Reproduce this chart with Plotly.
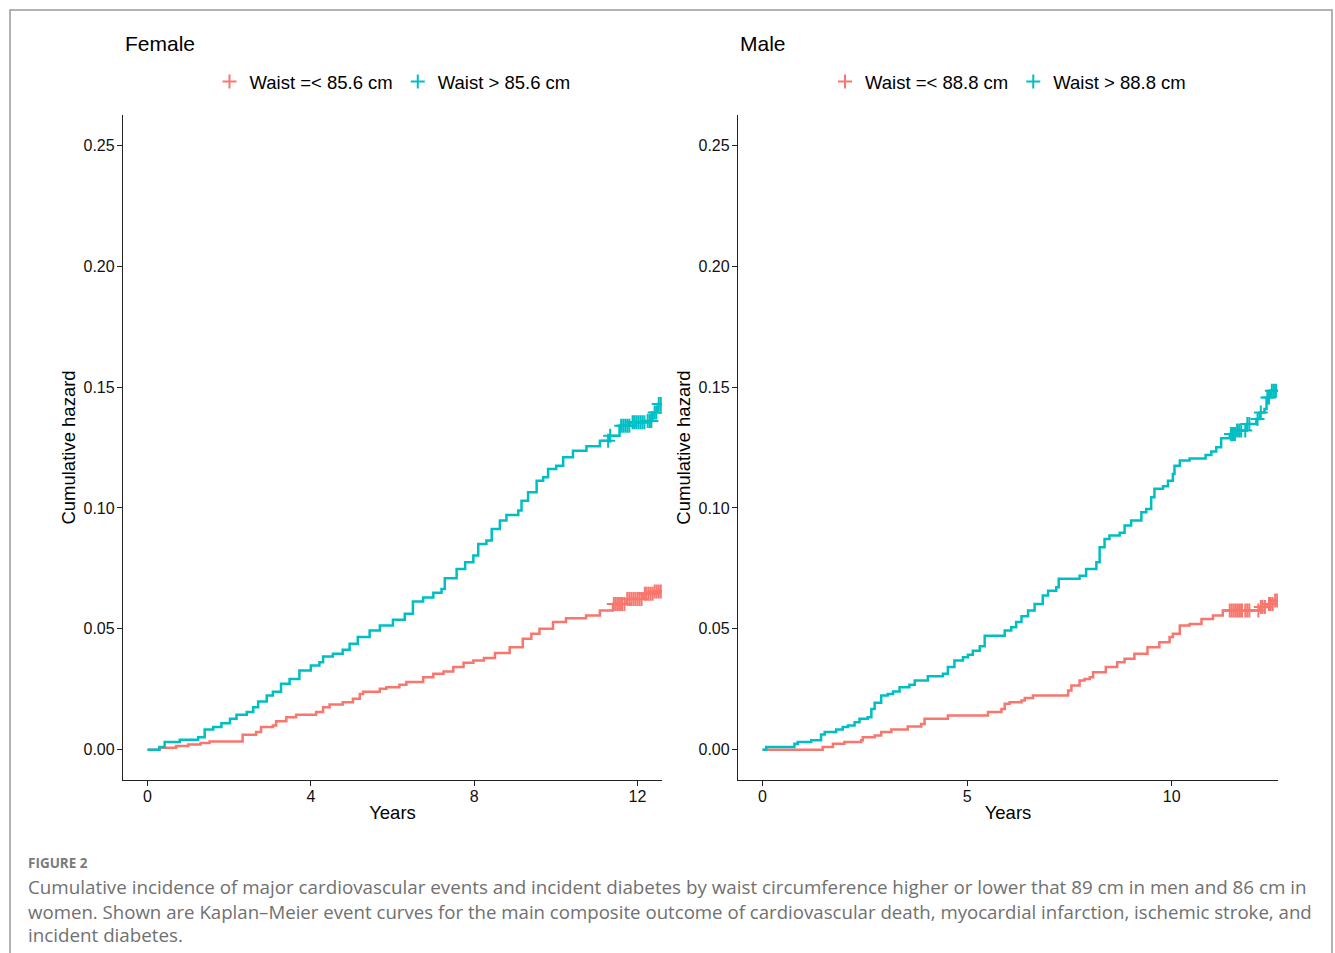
import numpy as np
import plotly.graph_objects as go

# ---------------- data ----------------
# Female, Waist =< 85.6 cm
f_lo_t = [0, 0.3, 0.7, 1.0, 1.3, 1.52, 2.33, 2.66, 2.78, 3.07, 3.15, 3.4, 3.64, 4.13, 4.3, 4.46,
          4.78, 5.03, 5.2, 5.28, 5.69, 5.85, 6.17, 6.34, 6.75, 7.0, 7.25, 7.49, 7.74, 7.98, 8.24,
          8.51, 8.87, 9.19, 9.4, 9.6, 9.93, 10.25, 10.74, 11.08, 11.4, 11.73, 12.14, 12.4, 12.6]
f_lo_v = [0, 0.0008, 0.0016, 0.0022, 0.0028, 0.0034, 0.0062, 0.0073, 0.0094, 0.0100, 0.0118,
          0.0135, 0.0145, 0.0156, 0.0176, 0.0187, 0.0197, 0.0211, 0.0231, 0.0240, 0.0252, 0.0259,
          0.0269, 0.0280, 0.0300, 0.0314, 0.0324, 0.0342, 0.0360, 0.0369, 0.0380, 0.0400, 0.0424,
          0.0459, 0.0480, 0.0500, 0.0528, 0.0544, 0.0555, 0.0576, 0.0603, 0.0624, 0.0645, 0.0655,
          0.0658]
f_lo_cens = [11.42, 11.47, 11.52, 11.57, 11.62, 11.68, 11.75, 11.8, 11.85, 11.9, 11.95, 12.0,
             12.05, 12.1, 12.18, 12.22, 12.27, 12.32, 12.37, 12.42, 12.47, 12.52, 12.57]

# Female, Waist > 85.6 cm
f_hi_t = [0, 0.29, 0.42, 0.79, 1.24, 1.4, 1.61, 1.81, 2.02, 2.18, 2.43, 2.59, 2.71, 2.92, 3.07,
          3.27, 3.48, 3.72, 4.0, 4.21, 4.3, 4.54, 4.78, 4.95, 5.15, 5.44, 5.69, 6.01, 6.3, 6.5,
          6.75, 7.0, 7.2, 7.28, 7.57, 7.78, 7.98, 8.1, 8.3, 8.43, 8.63, 8.79, 9.08, 9.16, 9.32,
          9.53, 9.69, 9.81, 10.01, 10.18, 10.42, 10.75, 11.08, 11.32, 11.56, 11.81, 12.21, 12.37,
          12.5, 12.6]
f_hi_v = [0, 0.0011, 0.0032, 0.0041, 0.0052, 0.0084, 0.0094, 0.0110, 0.0128, 0.0145, 0.0156,
          0.0176, 0.0200, 0.0224, 0.0240, 0.0273, 0.0293, 0.0328, 0.0348, 0.0362, 0.0386, 0.0397,
          0.0414, 0.0438, 0.0466, 0.0493, 0.0514, 0.0538, 0.0562, 0.0613, 0.0630, 0.0649, 0.0665,
          0.0709, 0.0748, 0.0775, 0.0803, 0.0851, 0.0865, 0.0913, 0.0948, 0.0971, 0.0989, 0.1030,
          0.1065, 0.1113, 0.1127, 0.1161, 0.1175, 0.1210, 0.1237, 0.1255, 0.1278, 0.1299, 0.1340,
          0.1354, 0.1360, 0.1395, 0.1430, 0.1430]
f_hi_cens = [11.28, 11.33, 11.6, 11.65, 11.7, 11.75, 11.8, 11.88, 11.92, 11.97, 12.02, 12.07,
             12.12, 12.17, 12.25, 12.3, 12.34, 12.42, 12.46, 12.52, 12.57]

# Male, Waist =< 88.8 cm
m_lo_t = [0, 1.47, 1.72, 2.0, 2.41, 2.45, 2.74, 2.9, 3.15, 3.55, 3.88, 3.96, 4.53, 5.51, 5.84,
          5.92, 6.04, 6.33, 6.41, 6.61, 7.47, 7.55, 7.75, 7.87, 8.0, 8.08, 8.39, 8.67, 8.85, 9.09,
          9.41, 9.7, 9.95, 10.03, 10.2, 10.44, 10.73, 11.01, 11.25, 12.15, 12.35, 12.52, 12.6]
m_lo_v = [0, 0.0011, 0.0025, 0.0032, 0.0039, 0.0052, 0.0059, 0.0073, 0.0084, 0.0096, 0.0107,
          0.0128, 0.0142, 0.0156, 0.0169, 0.0190, 0.0197, 0.0204, 0.0214, 0.0224, 0.0245, 0.0266,
          0.0286, 0.0293, 0.0300, 0.0321, 0.0342, 0.0362, 0.0376, 0.0397, 0.0424, 0.0445, 0.0466,
          0.0480, 0.0514, 0.0520, 0.0541, 0.0555, 0.0576, 0.0590, 0.0603, 0.0617, 0.0617]
m_lo_cens = [11.42, 11.47, 11.52, 11.57, 11.62, 11.67, 11.72, 11.8, 11.85, 11.9, 12.12, 12.18,
             12.22, 12.28, 12.38, 12.42, 12.47, 12.53, 12.58]

# Male, Waist > 88.8 cm
m_hi_t = [0, 0.09, 0.78, 0.86, 1.19, 1.43, 1.52, 1.8, 1.96, 2.09, 2.25, 2.37, 2.57, 2.66, 2.74,
          2.9, 3.06, 3.19, 3.35, 3.59, 3.72, 4.04, 4.41, 4.53, 4.69, 4.9, 5.02, 5.14, 5.31, 5.43,
          5.92, 6.08, 6.2, 6.33, 6.49, 6.65, 6.85, 6.98, 7.18, 7.24, 7.75, 7.91, 8.16, 8.24, 8.36,
          8.48, 8.73, 8.85, 9.01, 9.26, 9.38, 9.5, 9.58, 9.79, 9.91, 10.03, 10.07, 10.2, 10.44,
          10.83, 10.97, 11.09, 11.21, 11.42, 11.58, 11.83, 12.07, 12.15, 12.27, 12.32, 12.4, 12.6]
m_hi_v = [0, 0.0011, 0.0025, 0.0032, 0.0039, 0.0063, 0.0073, 0.0084, 0.0094, 0.0100, 0.0114,
          0.0128, 0.0135, 0.0169, 0.0194, 0.0224, 0.0231, 0.0241, 0.0259, 0.0269, 0.0286, 0.0304,
          0.0314, 0.0342, 0.0369, 0.0383, 0.0393, 0.0410, 0.0428, 0.0472, 0.0493, 0.0507, 0.0528,
          0.0552, 0.0576, 0.0603, 0.0638, 0.0658, 0.0672, 0.0707, 0.0720, 0.0748, 0.0775, 0.0838,
          0.0872, 0.0886, 0.0897, 0.0927, 0.0948, 0.0982, 0.0996, 0.1044, 0.1079, 0.1090, 0.1113,
          0.1140, 0.1175, 0.1196, 0.1205, 0.1219, 0.1233, 0.1251, 0.1288, 0.1306, 0.1320, 0.1347,
          0.1368, 0.1395, 0.1409, 0.1457, 0.1485, 0.1485]
m_hi_cens = [11.45, 11.5, 11.55, 11.6, 11.65, 11.7, 11.8, 11.85, 11.9, 12.1, 12.18, 12.34,
             12.38, 12.45, 12.5, 12.55]

female_labels = ["Waist =< 85.6 cm", "Waist > 85.6 cm"]
male_labels = ["Waist =< 88.8 cm", "Waist > 88.8 cm"]
female_xticks = [0, 4, 8, 12]
male_xticks = [0, 5, 10]
y_ticks = [0.00, 0.05, 0.10, 0.15, 0.20, 0.25]

panel_titles = ["Female", "Male"]
caption_head = "FIGURE 2"
caption_lines = [
    "Cumulative incidence of major cardiovascular events and incident diabetes by waist circumference higher or lower that 89 cm in men and 86 cm in",
    "women. Shown are Kaplan\u2013Meier event curves for the main composite outcome of cardiovascular death, myocardial infarction, ischemic stroke, and",
    "incident diabetes.",
]

RED = "#F8766D"
TEAL = "#00BFC4"

# ---------------- layout helpers (pixel -> paper) ----------------
W, H = 1335, 953
def fx(p):
    return p / W
def fy(p):
    return 1 - p / H

def step_at(ts, vs, c):
    ts = np.asarray(ts); vs = np.asarray(vs)
    idx = np.searchsorted(ts, np.asarray(c), side="right") - 1
    return vs[np.clip(idx, 0, len(vs) - 1)]

fig = go.Figure()

groups = [
    (f_lo_t, f_lo_v, f_lo_cens, female_labels[0], RED, "x", "y", "legend"),
    (f_hi_t, f_hi_v, f_hi_cens, female_labels[1], TEAL, "x", "y", "legend"),
    (m_lo_t, m_lo_v, m_lo_cens, male_labels[0], RED, "x2", "y2", "legend2"),
    (m_hi_t, m_hi_v, m_hi_cens, male_labels[1], TEAL, "x2", "y2", "legend2"),
]
for ts, vs, cens, name, col, xa, ya, lg in groups:
    fig.add_trace(go.Scatter(
        x=ts, y=vs, mode="lines", line=dict(color=col, width=2.5, shape="hv"),
        xaxis=xa, yaxis=ya, showlegend=False, legendgroup=name, hoverinfo="skip"))
    fig.add_trace(go.Scatter(
        x=cens, y=step_at(ts, vs, cens), mode="markers", name=name,
        marker=dict(symbol="cross-thin", size=10, color=col, line=dict(color=col, width=2)),
        xaxis=xa, yaxis=ya, legend=lg, legendgroup=name, showlegend=True))

axis_common = dict(
    showline=True, linecolor="#222222", linewidth=1.3, mirror=False,
    ticks="outside", ticklen=5, tickwidth=1.2, tickcolor="#222222",
    showgrid=False, zeroline=False,
    tickfont=dict(size=16, color="#111111", family="Liberation Sans, Arial, sans-serif"),
)
xdom1 = [fx(123), fx(662)]
xdom2 = [fx(738), fx(1278)]
ydom = [fy(780), fy(115)]

xtitle = dict(text="Years", font=dict(size=18.5), standoff=1)
ytitle = dict(text="Cumulative hazard", font=dict(size=18.5), standoff=3)

fig.update_layout(
    width=W, height=H,
    margin=dict(l=0, r=0, t=0, b=0),
    paper_bgcolor="white", plot_bgcolor="white",
    font=dict(family="Liberation Sans, Arial, sans-serif", color="black"),
    template="none",
    xaxis=dict(axis_common, domain=xdom1, anchor="y", range=[-0.6, 12.6],
               tickvals=female_xticks, ticktext=[str(v) for v in female_xticks],
               ticklabelstandoff=-3, title=xtitle),
    yaxis=dict(axis_common, domain=ydom, anchor="x", range=[-0.0125, 0.2625],
               tickvals=y_ticks, ticktext=[f"{v:.2f}" for v in y_ticks],
               ticklabelstandoff=-1, title=ytitle),
    xaxis2=dict(axis_common, domain=xdom2, anchor="y2", range=[-0.6, 12.6],
                tickvals=male_xticks, ticktext=[str(v) for v in male_xticks],
                ticklabelstandoff=-3, title=xtitle),
    yaxis2=dict(axis_common, domain=ydom, anchor="x2", range=[-0.0125, 0.2625],
                tickvals=y_ticks, ticktext=[f"{v:.2f}" for v in y_ticks],
                ticklabelstandoff=-1, title=ytitle),
    legend=dict(orientation="h", x=(xdom1[0] + xdom1[1]) / 2, xanchor="center",
                y=fy(82), yanchor="middle", font=dict(size=18.5), bgcolor="rgba(0,0,0,0)",
                itemclick=False, itemdoubleclick=False),
    legend2=dict(orientation="h", x=(xdom2[0] + xdom2[1]) / 2, xanchor="center",
                 y=fy(82), yanchor="middle", font=dict(size=18.5), bgcolor="rgba(0,0,0,0)",
                 itemclick=False, itemdoubleclick=False),
    showlegend=True,
)

# panel titles
for txt, xp in zip(panel_titles, [123, 738]):
    fig.add_annotation(text=txt, x=fx(xp), y=fy(43), xref="paper", yref="paper",
                       xanchor="left", yanchor="middle", showarrow=False,
                       font=dict(size=21, color="black"))

# caption
fig.add_annotation(text="<b>" + caption_head + "</b>", x=fx(26), y=fy(863), xref="paper",
                   yref="paper", xanchor="left", yanchor="middle", showarrow=False,
                   font=dict(size=13.5, color="#7a7a7a", family="Open Sans, Lato, sans-serif"))
caption_sizes = [18.8, 18.65, 18.8]
for i, line in enumerate(caption_lines):
    fig.add_annotation(text=line, x=fx(26), y=fy(887 + 24 * i), xref="paper", yref="paper",
                       xanchor="left", yanchor="middle", showarrow=False,
                       font=dict(size=caption_sizes[i], color="#707070",
                                 family="Open Sans, Lato, sans-serif"))

# outer frame
fig.add_shape(type="rect", xref="paper", yref="paper", x0=fx(10), x1=fx(1332),
              y0=-0.02, y1=fy(10), line=dict(color="#9a9a9a", width=1.5), layer="below")

fig.write_html("out.html", config={"displayModeBar": False},
               post_script="document.body.style.margin='0';document.body.style.overflow='hidden';")
